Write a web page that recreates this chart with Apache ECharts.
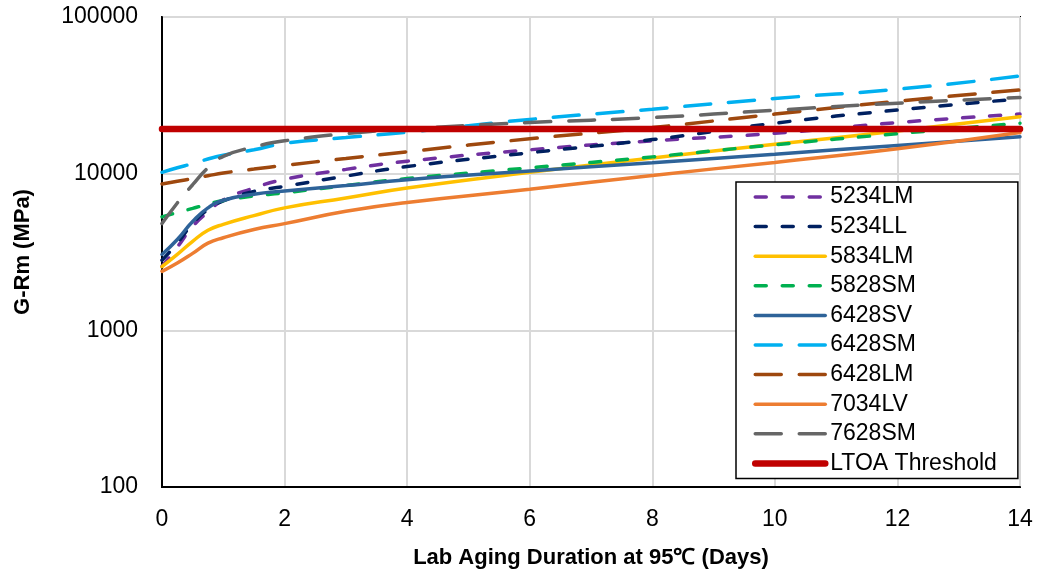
<!DOCTYPE html>
<html>
<head>
<meta charset="utf-8">
<title>G-Rm vs Lab Aging Duration</title>
<script src="https://cdn.jsdelivr.net/npm/echarts@6/dist/echarts.min.js"></script>
<style>
  html, body { margin: 0; padding: 0; background: #ffffff; }
  #chart { width: 1041px; height: 577px; }
</style>
</head>
<body>
<div id="chart"></div>
<script>
// Aging time (days) at which each binder was measured
const days = [0, 0.25, 0.5, 0.75, 1, 1.5, 2, 3, 4, 6, 8, 10, 12, 14];

// G-R modulus (MPa) per binder
const g5234LM = [2560, 3400, 4600, 5700, 6800, 8100, 9200, 10650, 12000, 14200, 16200, 18100, 21200, 24000];
const g5234LL = [2800, 3600, 4800, 5900, 6700, 7700, 8300, 9650, 11100, 13600, 16500, 21000, 25500, 30000];
const g5834LM = [2550, 3050, 3700, 4350, 4750, 5400, 6050, 7000, 8100, 10200, 12600, 15400, 18700, 23100];
const g5828SM = [5300, 5650, 6000, 6400, 6750, 7200, 7550, 8400, 9300, 10900, 12800, 15300, 18000, 21000];
const g6428SV = [3050, 3800, 4950, 6050, 6750, 7400, 7750, 8400, 9150, 10400, 11750, 13300, 15150, 17200];
const g6428SM = [10200, 10900, 11600, 12400, 13100, 14200, 15600, 17000, 18400, 22200, 25800, 30200, 34600, 42000];
const g6428LM = [8600, 8950, 9300, 9700, 10100, 10700, 11300, 12500, 13800, 16700, 19700, 24000, 29000, 34200];
const g7034LV = [2380, 2690, 3100, 3600, 3900, 4400, 4800, 5750, 6550, 7950, 9750, 11800, 14400, 18300];
const g7628SM = [4800, 6500, 8500, 10900, 12900, 14800, 16200, 18000, 19300, 21200, 22800, 25400, 28200, 30600];

// LTOA threshold line
const ltoaDays = [0, 14];
const ltoaValue = [19300, 19300];

// Axis tick values
const xTicks = [0, 2, 4, 6, 8, 10, 12, 14];
const yTicks = [100, 1000, 10000, 100000];

const FONT = 'Liberation Sans, Arial, sans-serif';
const SHORT_DASH = [11, 16];
const LONG_DASH = [26, 18];

function pairs(xs, ys) {
  return xs.map((x, i) => [x, ys[i]]);
}

function curve(name, values, color, dash) {
  return {
    name: name,
    type: 'line',
    data: pairs(days, values),
    symbol: 'circle',
    showSymbol: false,
    smooth: 0.5,
    lineStyle: {
      color: color,
      width: 3.5,
      type: dash || 'solid',
      cap: 'round'
    },
    itemStyle: { color: color },
    emphasis: { disabled: true }
  };
}

const series = [
  curve('5234LM', g5234LM, '#7030A0', SHORT_DASH),
  curve('5234LL', g5234LL, '#002060', SHORT_DASH),
  curve('5834LM', g5834LM, '#FFC000'),
  curve('5828SM', g5828SM, '#00B050', SHORT_DASH),
  curve('6428SV', g6428SV, '#2E6399'),
  curve('6428SM', g6428SM, '#00B0F0', LONG_DASH),
  curve('6428LM', g6428LM, '#9E480E', LONG_DASH),
  curve('7034LV', g7034LV, '#ED7D31'),
  curve('7628SM', g7628SM, '#666666', LONG_DASH),
  {
    name: 'LTOA Threshold',
    type: 'line',
    data: pairs(ltoaDays, ltoaValue),
    symbol: 'circle',
    showSymbol: false,
    z: 3,
    lineStyle: { color: '#C00000', width: 6.5, cap: 'round' },
    itemStyle: { color: '#C00000' },
    emphasis: { disabled: true }
  }
];

const chart = echarts.init(document.getElementById('chart'), null, { renderer: 'canvas' });

chart.setOption({
  backgroundColor: '#ffffff',
  animation: false,
  textStyle: { fontFamily: FONT },
  grid: {
    left: 162,
    right: 21,
    top: 17,
    bottom: 90,
    show: true,
    borderColor: '#000000',
    borderWidth: 2,
    backgroundColor: '#ffffff'
  },
  xAxis: {
    type: 'value',
    min: xTicks[0],
    max: xTicks[xTicks.length - 1],
    interval: xTicks[1] - xTicks[0],
    name: 'Lab Aging Duration at 95\u2103 (Days)',
    nameLocation: 'middle',
    nameGap: 60,
    nameTextStyle: { fontFamily: FONT, fontSize: 22, fontWeight: 'bold', color: '#000000' },
    axisLine: { show: true, lineStyle: { color: '#000000', width: 2 } },
    axisTick: { show: false },
    axisLabel: { fontFamily: FONT, fontSize: 23, color: '#000000', margin: 21 },
    splitLine: { show: true, lineStyle: { color: '#D9D9D9', width: 2 } }
  },
  yAxis: {
    type: 'log',
    logBase: 10,
    min: yTicks[0],
    max: yTicks[yTicks.length - 1],
    name: 'G-Rm (MPa)',
    nameLocation: 'middle',
    nameRotate: 90,
    nameGap: 128,
    nameTextStyle: { fontFamily: FONT, fontSize: 22, fontWeight: 'bold', color: '#000000' },
    axisLine: { show: true, lineStyle: { color: '#000000', width: 2 } },
    axisTick: { show: false },
    axisLabel: {
      fontFamily: FONT,
      fontSize: 23,
      color: '#000000',
      margin: 24,
      formatter: v => String(Math.round(v))
    },
    splitLine: { show: true, lineStyle: { color: '#D9D9D9', width: 2 } },
    minorSplitLine: { show: false }
  },
  legend: {
    orient: 'vertical',
    left: 736,
    top: 182,
    width: 280,
    padding: [3, 21, 3, 16],
    itemWidth: 70,
    itemHeight: 14,
    itemGap: 5.6,
    backgroundColor: '#ffffff',
    borderColor: '#000000',
    borderWidth: 1.5,
    // line samples only, no point markers
    itemStyle: { opacity: 0 },
    lineStyle: { width: 'inherit', cap: 'round' },
    textStyle: { fontFamily: FONT, fontSize: 23, color: '#000000', lineHeight: 24 },
    data: series.map(s => s.name)
  },
  series: series
});
</script>
</body>
</html>
